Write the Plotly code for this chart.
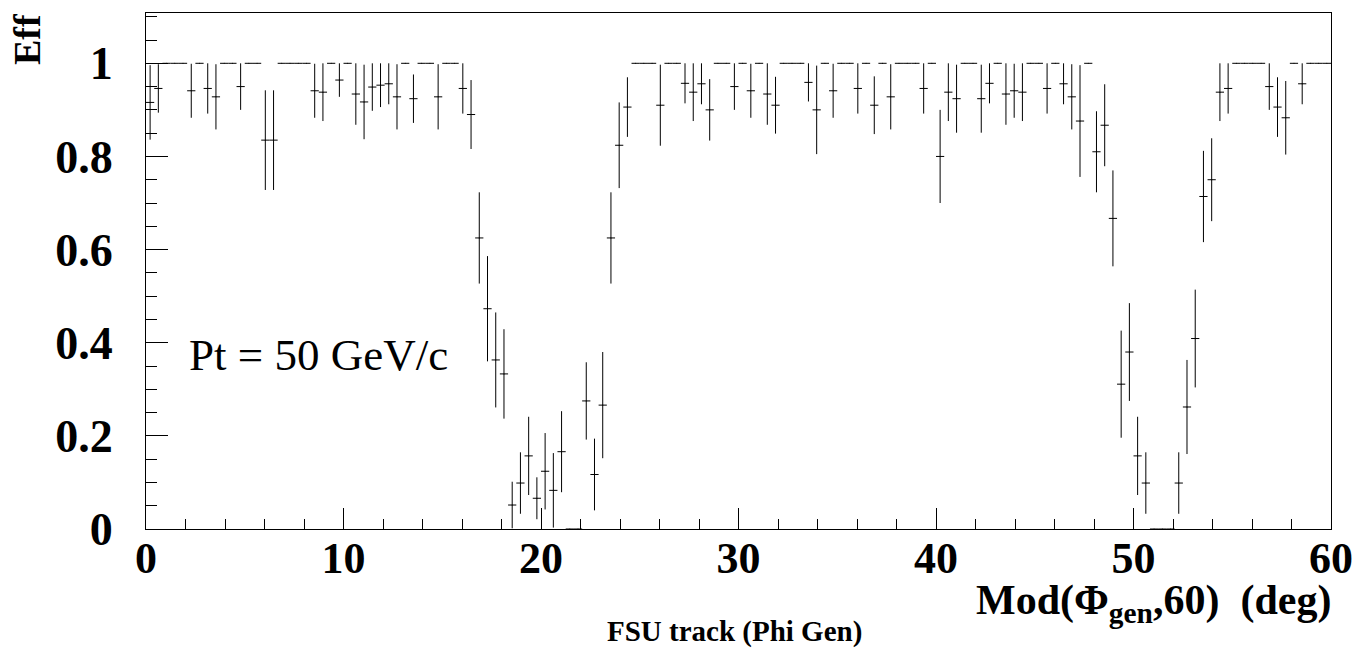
import plotly.graph_objects as go

# ---- data (144 bins over 0..60 deg) ----
x_min, x_max, n_bins = 0.0, 60.0, 144
eff = [
    0.916, 0.946, 1, 1, 1, 0.941, 1, 0.946, 0.928, 1,
    1, 0.95, 1, 1, 0.835, 0.835, 1, 1, 1, 1,
    0.941, 0.938, 1, 0.964, 1, 0.934, 0.917, 0.949, 0.953, 0.956,
    0.928, 1, 0.924, 1, 1, 0.928, 1, 1, 0.946, 0.89,
    0.625, 0.473, 0.363, 0.333, 0.0515, 0.0987, 0.157, 0.066, 0.124, 0.083,
    0.166, 0, 0, 0.275, 0.117, 0.266, 0.625, 0.824, 0.906, 1,
    1, 1, 0.91, 1, 1, 0.957, 0.938, 0.956, 0.9, 1,
    1, 0.95, 1, 0.941, 1, 0.934, 0.91, 1, 1, 1,
    0.959, 0.9, 1, 0.941, 1, 1, 0.946, 1, 0.91, 1,
    0.928, 1, 1, 1, 0.946, 1, 0.8, 0.938, 0.924, 1,
    1, 0.924, 0.957, 1, 0.934, 0.941, 0.938, 1, 1, 0.946,
    1, 0.956, 0.928, 0.876, 1, 0.81, 0.867, 0.667, 0.311, 0.38,
    0.157, 0.0987, 0, 0, 0, 0.0987, 0.262, 0.409, 0.714, 0.75,
    0.938, 0.946, 1, 1, 1, 1, 0.95, 0.906, 0.883, 1,
    0.956, 1, 1, 1,
]
err = [
    0.08, 0.052, 0, 0, 0, 0.058, 0, 0.054, 0.07, 0,
    0, 0.05, 0, 0, 0.107, 0.107, 0, 0, 0, 0,
    0.058, 0.062, 0, 0.036, 0, 0.066, 0.08, 0.051, 0.047, 0.044,
    0.07, 0, 0.052, 0, 0, 0.07, 0, 0, 0.054, 0.074,
    0.098, 0.113, 0.102, 0.096, 0.05, 0.066, 0.084, 0.045, 0.082, 0.08,
    0.087, 0, 0, 0.083, 0.077, 0.114, 0.098, 0.092, 0.064, 0,
    0, 0, 0.087, 0, 0, 0.043, 0.062, 0.044, 0.066, 0,
    0, 0.05, 0, 0.058, 0, 0.066, 0.061, 0, 0, 0,
    0.041, 0.095, 0, 0.058, 0, 0, 0.054, 0, 0.062, 0,
    0.07, 0, 0, 0, 0.054, 0, 0.1, 0.062, 0.073, 0,
    0, 0.073, 0.043, 0, 0.066, 0.058, 0.062, 0, 0, 0.054,
    0, 0.044, 0.07, 0.12, 0, 0.087, 0.088, 0.103, 0.115, 0.105,
    0.084, 0.066, 0, 0, 0, 0.066, 0.101, 0.105, 0.098, 0.089,
    0.062, 0.054, 0, 0, 0, 0, 0.05, 0.064, 0.079, 0,
    0.044, 0, 0, 0,
]
y_tickvals = [0, 0.2, 0.4, 0.6, 0.8, 1.0]
y_ticktext = ["0", "0.2", "0.4", "0.6", "0.8", "1"]
x_tickvals = [0, 10, 20, 30, 40, 50, 60]
x_ticktext = ["0", "10", "20", "30", "40", "50", "60"]

bw = (x_max - x_min) / n_bins
centers = [x_min + bw * (i + 0.5) for i in range(n_bins)]

W, H = 1365, 650
ML, MR, MT, MB = 146, 34, 13, 121
pw, ph = W - ML - MR, H - MT - MB

def px(xp):
    return (xp - ML) / pw

def py(yp):
    return (H - MB - yp) / ph

FONT = "Liberation Serif"

fig = go.Figure()
fig.add_trace(go.Scatter(
    x=centers, y=eff, mode="markers",
    marker=dict(size=1, color="black"),
    error_x=dict(type="constant", value=bw / 2, width=0, thickness=1, color="black"),
    error_y=dict(type="data", array=err, width=0, thickness=1, color="black"),
    showlegend=False, hoverinfo="x+y",
))

fig.update_layout(
    width=W, height=H, autosize=False,
    margin=dict(l=ML, r=MR, t=MT, b=MB, pad=0),
    paper_bgcolor="white", plot_bgcolor="white",
    font=dict(family=FONT, color="black"),
    xaxis=dict(
        range=[x_min, x_max], showgrid=False, zeroline=False,
        showline=True, linecolor="black", linewidth=1, mirror=True,
        ticks="inside", ticklen=21, tickcolor="black", tickwidth=1,
        tickvals=x_tickvals, ticktext=x_ticktext,
        minor=dict(ticks="inside", ticklen=10, dtick=2, tickcolor="black", showgrid=False),
        tickfont=dict(family=FONT, size=44, color="black", weight="bold"),
        ticklabelstandoff=-10,
    ),
    yaxis=dict(
        range=[0, 1.108], showgrid=False, zeroline=False,
        showline=True, linecolor="black", linewidth=1, mirror=True,
        ticks="inside", ticklen=22, tickcolor="black", tickwidth=1,
        tickvals=y_tickvals, ticktext=y_ticktext,
        minor=dict(ticks="inside", ticklen=11, dtick=0.05, tickcolor="black", showgrid=False),
        tickfont=dict(family=FONT, size=46, color="black", weight="bold"),
        ticklabelstandoff=23,
    ),
    annotations=[
        dict(text="<b>Eff</b>", xref="paper", yref="paper", x=px(27), y=py(39),
             textangle=-90, showarrow=False, font=dict(family=FONT, size=38),
             xanchor="center", yanchor="middle"),
        dict(text="Pt = 50 GeV/c", xref="x", yref="y", x=(187 - ML) / pw * 60, y=0.374,
             showarrow=False, font=dict(family=FONT, size=45),
             xanchor="left", yanchor="middle"),
        dict(text="<b>Mod(\u03a6<sub>gen</sub>,60)  (deg)</b>", xref="paper", yref="paper",
             x=px(1333), y=py(603), showarrow=False, font=dict(family=FONT, size=42),
             xanchor="right", yanchor="middle"),
        dict(text="<b>FSU track (Phi Gen)</b>", xref="paper", yref="paper",
             x=px(734), y=py(631), showarrow=False, font=dict(family=FONT, size=29),
             xanchor="center", yanchor="middle"),
    ],
)

fig.write_html("out.html")
